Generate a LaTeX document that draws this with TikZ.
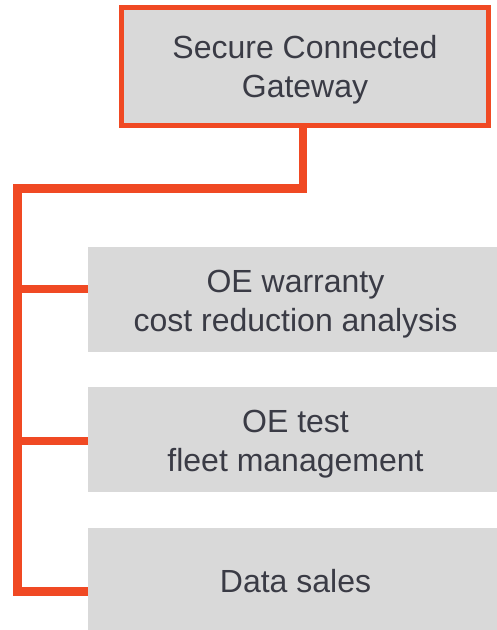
\documentclass[tikz,border=0pt]{standalone}
\usepackage{fontspec}
\setmainfont{Liberation Sans}
\definecolor{accent}{HTML}{F04923}
\definecolor{boxgray}{HTML}{D9D9D9}
\definecolor{txt}{HTML}{3A3B45}
\begin{document}
\begin{tikzpicture}[x=1pt,y=-1pt,
  box/.style={rectangle, fill=boxgray, inner sep=0pt, outer sep=0pt},
  topbox/.style={box, draw=accent, line width=5pt, minimum width=367pt, minimum height=118pt},
  subbox/.style={box, minimum width=409pt, minimum height=105pt},
  lbl/.style={inner sep=0pt, align=center, text=txt, font=\fontsize{32}{38.5}\selectfont},
  conn/.style={draw=accent, line width=8.7pt, line join=miter, line cap=butt}]
\useasboundingbox (0,0) rectangle (497,630);
\node[topbox] (top) at (305,66.5) {};
\node[lbl] (topl) at (305,69.5) {Secure Connected\\Gateway};
\node[subbox] (b1) at (292.5,299.2) {};
\node[lbl] (b1l) at (295.5,304) {OE warranty\\cost reduction analysis};
\node[subbox] (b2) at (292.5,439.2) {};
\node[lbl] (b2l) at (295.5,444) {OE test\\fleet management};
\node[subbox] (b3) at (292.5,580.2) {};
\node[lbl] (b3l) at (295.5,581) {Data sales};
\coordinate (t) at (303,128);
\coordinate (tl) at (17.7,188.5);
\coordinate (bl) at (17.7,591.5);
\coordinate (k1) at (17.7,289);
\coordinate (k2) at (17.7,441);
\draw[conn] (t) |- (tl) -- (bl) -- (bl -| b3.west);
\draw[conn] (k1) -- (k1 -| b1.west);
\draw[conn] (k2) -- (k2 -| b2.west);
\end{tikzpicture}
\end{document}
